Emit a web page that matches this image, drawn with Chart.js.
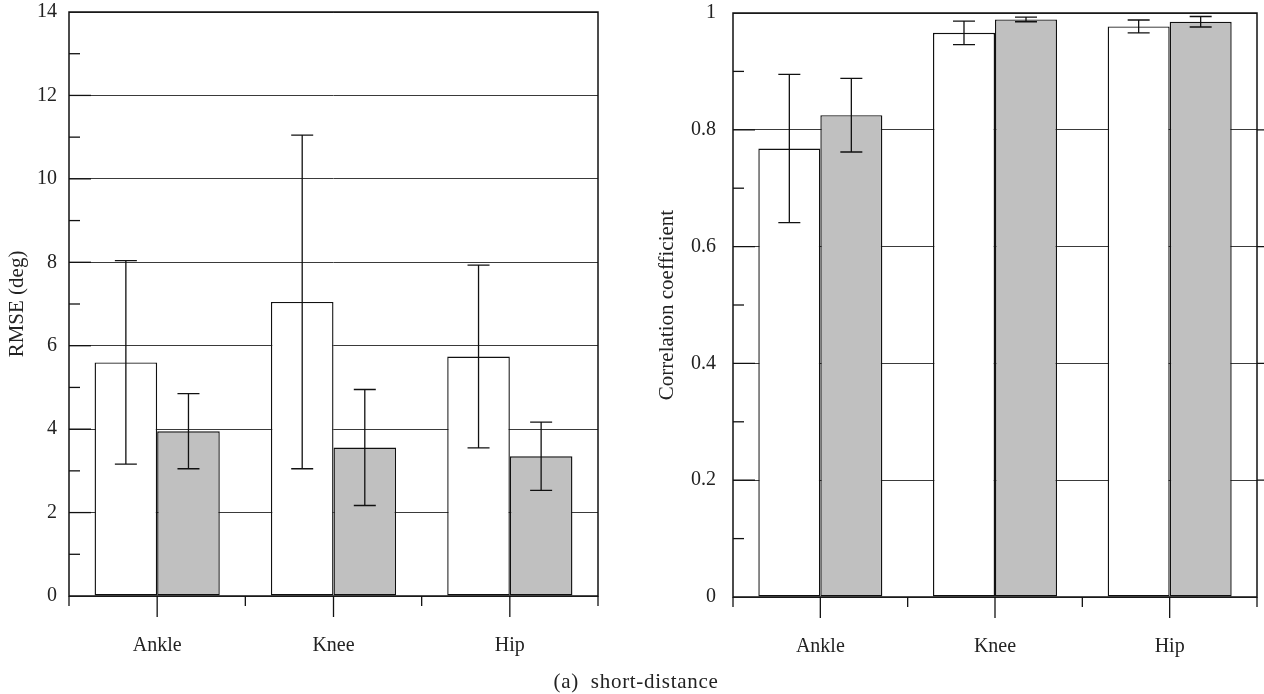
<!DOCTYPE html>
<html>
<head>
<meta charset="utf-8">
<script src="https://cdn.jsdelivr.net/npm/chart.js@4"></script>
<style>
  body { margin: 0; background: #fff; width: 1264px; height: 694px; position: relative; overflow: hidden; }
  canvas { position: absolute; top: 0; }
  #rmse { left: 0; }
  #corr { left: 620px; }
  #caption {
    position: absolute; left: 4px; width: 1264px; top: 669px;
    text-align: center; font: 21px "Liberation Serif", serif; color: #222;
    letter-spacing: 0.7px; white-space: pre;
  }
</style>
</head>
<body>
<canvas id="rmse" width="620" height="694"></canvas>
<canvas id="corr" width="644" height="694"></canvas>
<div id="caption">(a)  short-distance</div>
<script>
const joints = ["Ankle", "Knee", "Hip"];

// RMSE (deg), white and grey bars with their error bars
const rmseWhite = [5.6, 7.05, 5.74];
const rmseWhiteErr = [2.44, 4.0, 2.19];
const rmseGrey = [3.95, 3.56, 3.35];
const rmseGreyErr = [0.9, 1.39, 0.82];

// correlation coefficient
const corrWhite = [0.768, 0.966, 0.977];
const corrWhiteErr = [0.127, 0.02, 0.011];
const corrGrey = [0.825, 0.989, 0.985];
const corrGreyErr = [0.063, 0.004, 0.009];

const FONT = { family: "'Liberation Serif', serif", size: 20 };
const TITLE_FONT = { family: "'Liberation Serif', serif", size: 21 };
const INK = "#222";

// error bars, axis ticks and the frame round the plot
const decorPlugin = {
  id: "decor",
  afterDatasetsDraw(chart, args, opts) {
    const { ctx, chartArea: a, scales: { x, y } } = chart;
    ctx.save();
    ctx.strokeStyle = "#111";
    ctx.lineWidth = 1.3;

    // error bars
    chart.data.datasets.forEach((ds, di) => {
      const meta = chart.getDatasetMeta(di);
      meta.data.forEach((bar, i) => {
        const v = ds.data[i], e = ds.errors[i];
        const yTop = y.getPixelForValue(v + e);
        const yBot = y.getPixelForValue(v - e);
        ctx.beginPath();
        ctx.moveTo(bar.x, yTop); ctx.lineTo(bar.x, yBot);
        ctx.moveTo(bar.x - 11, yTop); ctx.lineTo(bar.x + 11, yTop);
        ctx.moveTo(bar.x - 11, yBot); ctx.lineTo(bar.x + 11, yBot);
        ctx.stroke();
      });
    });

    // frame
    ctx.lineWidth = 1.5;
    ctx.strokeRect(a.left, a.top, a.right - a.left, a.bottom - a.top);

    // inward y ticks, major and minor
    ctx.lineWidth = 1.3;
    const n = Math.round(opts.max / opts.minor);
    for (let k = 1; k < n; k++) {
      const py = y.getPixelForValue(k * opts.minor);
      const major = k % 2 === 0;
      ctx.beginPath();
      ctx.moveTo(a.left, py);
      ctx.lineTo(a.left + (major ? 22 : 11), py);
      if (major && opts.rightTicks) {
        ctx.moveTo(a.right, py);
        ctx.lineTo(a.right + 8, py);
      }
      ctx.stroke();
    }

    // x ticks: short at category edges, long at centres
    for (let i = 0; i <= joints.length; i++) {
      const px = x.getPixelForValue(i - 0.5);
      ctx.beginPath();
      ctx.moveTo(px, a.bottom); ctx.lineTo(px, a.bottom + 10);
      ctx.stroke();
    }
    joints.forEach((j, i) => {
      const px = x.getPixelForValue(i);
      ctx.beginPath();
      ctx.moveTo(px, a.bottom); ctx.lineTo(px, a.bottom + 21);
      ctx.stroke();
    });
    ctx.restore();
  }
};

function makeChart(id, cfg) {
  return new Chart(document.getElementById(id), {
    type: "bar",
    data: {
      labels: joints,
      datasets: [
        { data: cfg.white, errors: cfg.whiteErr, backgroundColor: "#ffffff" },
        { data: cfg.grey, errors: cfg.greyErr, backgroundColor: "#c0c0c0" }
      ].map(d => Object.assign(d, {
        borderColor: "#111", borderWidth: 1.4, borderSkipped: false,
        categoryPercentage: 0.71, barPercentage: 1.0
      }))
    },
    options: {
      responsive: false,
      animation: false,
      layout: { padding: { top: cfg.top, right: cfg.right, left: 0, bottom: 0 } },
      plugins: {
        legend: { display: false },
        tooltip: { enabled: false },
        decor: { max: cfg.max, minor: cfg.minor, rightTicks: cfg.rightTicks }
      },
      scales: {
        x: {
          afterFit: s => { s.height = cfg.xHeight; s.paddingLeft = 0; s.paddingRight = 0; },
          grid: { display: false },
          border: { display: false },
          ticks: { font: FONT, color: INK, padding: 30 }
        },
        y: {
          min: 0, max: cfg.max,
          afterFit: s => { s.width = cfg.yWidth; s.paddingTop = 0; s.paddingBottom = 0; },
          grid: { color: "#3a3a3a", lineWidth: 1, drawTicks: false },
          border: { display: false },
          ticks: {
            stepSize: cfg.minor * 2, font: FONT, color: INK, padding: cfg.labelPad,
            callback: v => String(+v.toFixed(1))
          },
          title: {
            display: true, text: cfg.title, font: TITLE_FONT, color: INK,
            padding: { top: cfg.titlePad, bottom: 0 }
          }
        }
      }
    },
    plugins: [decorPlugin]
  });
}

makeChart("rmse", {
  white: rmseWhite, whiteErr: rmseWhiteErr, grey: rmseGrey, greyErr: rmseGreyErr,
  max: 14, minor: 1, title: "RMSE (deg)",
  top: 12, right: 22, xHeight: 98, yWidth: 69, labelPad: 12, titlePad: 5,
  rightTicks: false
});

makeChart("corr", {
  white: corrWhite, whiteErr: corrWhiteErr, grey: corrGrey, greyErr: corrGreyErr,
  max: 1, minor: 0.1, title: "Correlation coefficient",
  top: 13, right: 7, xHeight: 97, yWidth: 113, labelPad: 17, titlePad: 35,
  rightTicks: true
});
</script>
</body>
</html>
